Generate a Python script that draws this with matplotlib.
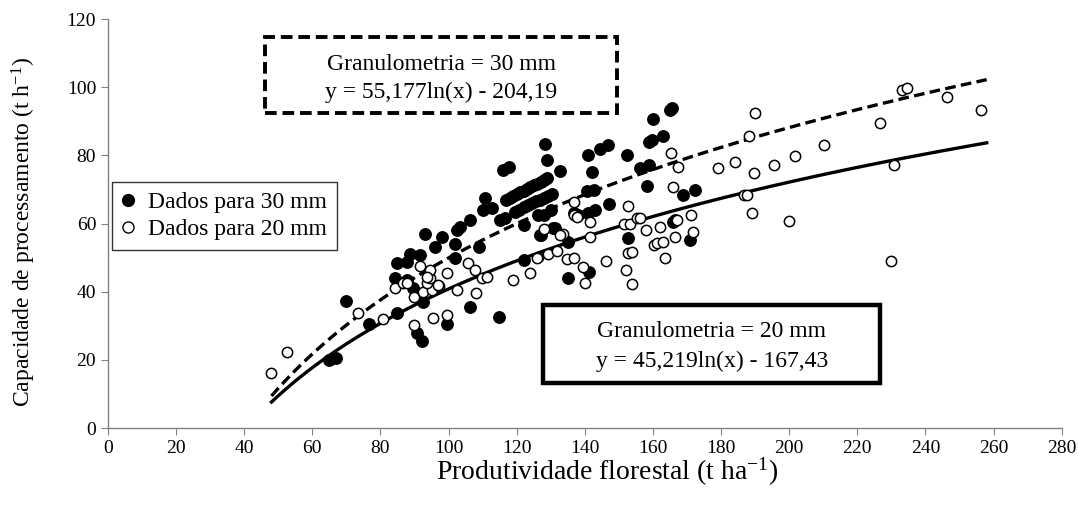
import numpy as np
import matplotlib
matplotlib.use("Agg")
import matplotlib.pyplot as plt
from matplotlib.patches import Rectangle
from matplotlib.lines import Line2D

plt.rcParams['font.family'] = ['Liberation Serif', 'DejaVu Serif']
plt.rcParams['mathtext.fontset'] = 'custom'
plt.rcParams['mathtext.rm'] = 'Liberation Serif'
plt.rcParams['mathtext.default'] = 'regular'

# --- data ----------------------------------------------------------------
# Granulometria 30 mm (filled markers)
x30 = [65, 67, 70, 76.5, 84.8, 84.3, 84.8, 87.7, 88.7, 91.7, 87.7, 89.5, 92.6,
       90.7, 92.1, 93, 96, 98, 99.5, 102, 102, 102.4, 103.4, 106.3, 106.2, 109,
       110, 110.8, 112.7, 114.7, 116, 117.6, 116.6, 115, 117, 118, 119, 120, 121,
       122, 123, 124, 125, 126, 127, 128, 129, 119.6, 120.8, 122, 123.2, 124.4,
       125.6, 126.8, 128, 129.2, 130.3, 122, 126.9, 130.8, 126.4, 128, 130,
       122, 128.4, 128.9, 132.8, 135.2, 135.2, 136.7, 138, 140.6, 142.6, 141,
       143, 141, 142, 144.5, 146.7, 147, 141.1, 152.4, 152.8, 156.3, 158.7,
       158.2, 158.7, 159.7, 163, 160, 165.1, 165.6, 166, 166.6, 168.8, 172.4,
       170.8, 131.3, 127]
y30 = [20, 20.5, 37.4, 30.5, 33.8, 44, 48.3, 48.8, 51, 50.8, 43.4, 41, 37,
       27.8, 25.5, 57, 53, 56, 30.5, 54, 50, 58, 59, 61, 35.6, 53,
       64, 67.4, 64.5, 32.7, 75.7, 76.5, 61.5, 61, 67, 67.5, 68, 68.6, 69.1,
       69.6, 70.1, 70.7, 71.2, 71.7, 72.2, 72.8, 73.3, 63.5, 64.1, 64.7, 65.3, 65.9,
       66.5, 67, 67.6, 68.2, 68.8, 59.6, 56.6, 58.6, 62.5, 62.5, 64,
       49.3, 83.3, 78.6, 75.3, 54.7, 43.9, 63, 62.5, 69.4, 69.8, 63,
       64, 80, 75, 82, 83, 65.7, 45.9, 80, 55.7, 76.2, 77.2,
       70.9, 84, 84.5, 85.7, 90.6, 93.3, 93.8, 60.5, 61, 68.4, 69.8,
       55.2, 58.6, 56.6]

# Granulometria 20 mm (open markers)
x20 = [47.8, 52.5, 73.5, 80.7, 84.3, 86.7, 87.7, 89.7, 95.4, 99.5, 89.7, 92.6,
       95, 93.6, 94.6, 97.3, 91.7, 99.5, 102.4, 105.8, 107.8, 108, 109.8, 111.2,
       118.9, 124, 126.4, 129.3, 131.8, 127.9, 133.7, 132.8, 134.7, 136.7,
       136.7, 136.7, 137.7, 139.6, 140.1, 141.6, 141.4, 146.3, 152.8, 151.4,
       153.4, 155.3, 152.8, 153.8, 152.2, 153.8, 156.3, 158, 162.2, 160.2,
       161.2, 163.1, 163.4, 165.3, 167.5, 166, 166.6, 167, 171.1, 171.7, 179,
       184.2, 186.6, 187.6, 188.1, 189, 189.8, 190, 195.6, 200.1, 201.8, 210.3,
       226.6, 229.9, 230.9, 233.1, 234.6, 246.2, 256.2, 94.6, 93.6, 97, 126]
y20 = [16.2, 22.4, 33.8, 31.9, 41, 42.5, 42.5, 30.2, 32.2, 33.2, 38.5, 40,
       40.5, 42.5, 43.9, 41.7, 47.5, 45.4, 40.5, 48.3, 46.4, 39.5, 43.9, 44.4,
       43.4, 45.4, 50.3, 51, 52, 58.3, 57, 56.6, 49.5, 50,
       66.4, 62.5, 61.8, 47.1, 42.6, 60.5, 56, 49.1, 65, 60,
       60, 61.5, 51.3, 51.7, 46.4, 42.2, 61.5, 58, 59, 53.7,
       54.2, 54.7, 50, 80.6, 76.5, 70.8, 56.1, 61, 62.5, 57.6, 76.2,
       78.1, 68.4, 68.4, 85.7, 63.2, 74.9, 92.5, 77.2, 60.8, 79.8, 83,
       89.4, 49.1, 77.2, 99.2, 99.7, 97, 93.3, 46.4, 44.4, 42, 49.8]

# fitted equations shown on the chart: y = a ln(x) + b
a30, b30 = 55.177, -204.19
a20, b20 = 45.219, -167.43
x_fit = np.linspace(48, 258, 200)

fig = plt.figure(figsize=(10.78, 5.07), dpi=100)
ax = fig.add_axes([0.1002, 0.1558, 0.8846, 0.8067])

ax.plot(x_fit, a30 * np.log(x_fit) + b30, color='black', lw=2.4,
        linestyle=(0, (3.2, 1.6)), zorder=3)
ax.plot(x_fit, a20 * np.log(x_fit) + b20, color='black', lw=2.4, zorder=3)

ax.scatter(x30, y30, s=68, color='black', zorder=4)
ax.scatter(x20, y20, s=55, facecolor='white', edgecolor='black', lw=1.1, zorder=4)

ax.set_xlim(0, 280)
ax.set_ylim(0, 120)
ax.set_xticks(np.arange(0, 281, 20))
ax.set_yticks(np.arange(0, 121, 20))
for s in ['top', 'right']:
    ax.spines[s].set_visible(False)
for s in ['left', 'bottom']:
    ax.spines[s].set_color('#808080')
    ax.spines[s].set_linewidth(1.0)
ax.tick_params(direction='out', length=5, color='#808080', labelsize=14)
ax.set_xlabel('Produtividade florestal (t ha$^{-1}$)', fontsize=20)
ax.set_ylabel('Capacidade de processamento (t h$^{-1}$)', fontsize=17)
ax.xaxis.set_label_coords(0.523, -0.068)
ax.yaxis.set_label_coords(-0.073, 0.478)

# legend
handles = [Line2D([], [], marker='o', ls='', color='black', ms=8.5),
           Line2D([], [], marker='o', ls='', mfc='white', mec='black', ms=8)]
leg = ax.legend(handles, ['Dados para 30 mm', 'Dados para 20 mm'],
                loc='upper left', bbox_to_anchor=(0.004, 0.602), fontsize=17,
                frameon=True, fancybox=False, handlelength=0.6, handletextpad=0.55,
                borderpad=0.4, labelspacing=0.25, borderaxespad=0)
leg.get_frame().set_edgecolor('black')
leg.get_frame().set_linewidth(1.0)

# equation boxes
ax.add_patch(Rectangle((46.1, 92.4), 103.4, 22.3, fill=False, lw=2.8,
                       ls=(0, (3, 1.5)), ec='black', clip_on=False, zorder=5))
ax.text(97.8, 106.8, 'Granulometria = 30 mm', ha='center', va='center', fontsize=17)
ax.text(97.8, 98.6, 'y = 55,177ln(x) - 204,19', ha='center', va='center', fontsize=17)

ax.add_patch(Rectangle((127.8, 13.2), 99.0, 22.9, fill=False, lw=3.2,
                       ec='black', clip_on=False, zorder=5))
ax.text(177.3, 28.2, 'Granulometria = 20 mm', ha='center', va='center', fontsize=17)
ax.text(177.3, 19.4, 'y = 45,219ln(x) - 167,43', ha='center', va='center', fontsize=17)

fig.savefig('out.png', dpi=100)
